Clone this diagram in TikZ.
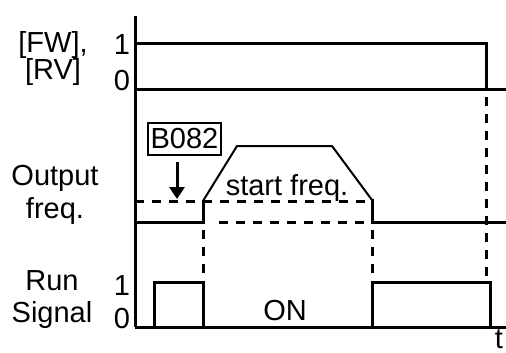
\documentclass[tikz,border=0pt]{standalone}
\usepackage{fontspec}
\setmainfont{Liberation Sans}
\usetikzlibrary{arrows.meta, positioning}

\begin{document}
\begin{tikzpicture}[x=1pt, y=-1pt,
    sig/.style={line width=3pt},
    ramp/.style={line width=2pt},
    guide/.style={line width=3pt, dash pattern=on 9pt off 8pt},
    lbl/.style={font=\fontsize{29}{32}\selectfont, align=center, inner sep=0pt, anchor=base},
    parbox/.style={draw, line width=2pt, font=\fontsize{29}{32}\selectfont,
      inner xsep=3pt, inner ysep=5.5pt},
    arr/.style={-{Triangle[length=12pt,width=15pt]}, line width=3pt}
  ]
    \useasboundingbox (0,0) rectangle (506,353);
    \draw[sig] (135,16) -- (135,327);
    \draw[sig] (135,44) -- (486,44) -- (486,89);
    \draw[sig] (135,89) -- (506,89);
    \draw[sig] (135,222) -- (203,222) -- (203,200);
    \draw[ramp] (203,201) -- (237,146) -- (332,146) -- (372,200);
    \draw[sig] (372,199) -- (372,222) -- (506,222);
    \draw[guide] (135,201) -- (372,201);
    \draw[guide] (219,222) -- (372,222);
    \draw[guide] (203,230) -- (203,282);
    \draw[guide] (372,230) -- (372,282);
    \draw[guide] (486,97) -- (486,282);
    \draw[sig] (135,327) -- (506,327);
    \draw[sig] (154,327) -- (154,282) -- (203,282) -- (203,327);
    \draw[sig] (372,327) -- (372,282) -- (490,282) -- (490,327);
    \node[lbl, font=\fontsize{29}{28}\selectfont] (fwrv) at (53,80) {[FW],\\{}[RV]};
    \node[lbl] (fwhi) at (122,55) {1};
    \node[lbl] (fwlo) at (122,90) {0};
    \node[lbl, font=\fontsize{29}{33}\selectfont] (outfreq) at (55,218) {Output\\freq.};
    \node[lbl] (run) at (52,322) {Run\\Signal};
    \node[lbl] (runhi) at (122,295) {1};
    \node[lbl] (runlo) at (122,328) {0};
    \node[parbox] (b082) at (184.5,139) {B082};
    \coordinate (b082tip) at (177,199);
    \draw[arr] ([xshift=-7.5pt,yshift=-6pt]b082.south) -- (b082tip);
    \node[lbl] (startf) at (287,195) {start freq.};
    \node[lbl] (on) at (285,320) {ON};
    \node[lbl] (tlbl) at (499,348) {t};
\end{tikzpicture}
\end{document}
